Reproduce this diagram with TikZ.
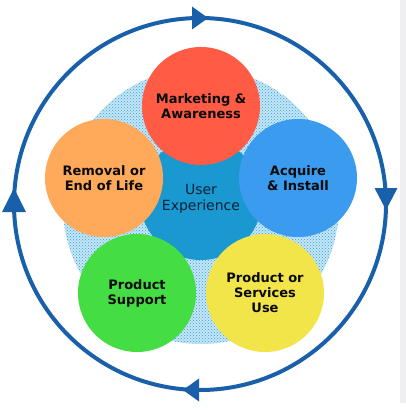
\documentclass[tikz,border=0pt]{standalone}
\usepackage{fontspec}
\setmainfont{DejaVu Sans}
\usetikzlibrary{patterns,calc}
\definecolor{ringblue}{HTML}{1860AA}
\definecolor{stripgray}{HTML}{EFEFF2}
\definecolor{ditherbase}{HTML}{C6E6F6}
\definecolor{ditherdot}{HTML}{2FA0DA}
\definecolor{hubteal}{HTML}{1A98D0}
\definecolor{hubtext}{HTML}{082238}
\definecolor{labeltext}{HTML}{0A0A0A}
\definecolor{mktred}{HTML}{FF5B45}
\definecolor{acqblue}{HTML}{3A9BEF}
\definecolor{useyellow}{HTML}{F2E54A}
\definecolor{supgreen}{HTML}{44DD44}
\definecolor{remorange}{HTML}{FFA95A}
\tikzset{
  ringstyle/.style={circle, draw=ringblue, line width=4pt, minimum size=372pt, inner sep=0pt, outer sep=0pt},
  arrowfill/.style={fill=ringblue},
  ditherdisc/.style={circle, minimum size=276pt, inner sep=0pt, fill=ditherbase},
  hubstyle/.style={circle, fill=hubteal, minimum size=122pt, inner sep=0pt, align=center,
    text=hubtext, font=\fontsize{14}{15.5}\selectfont},
  stagestyle/.style={circle, minimum size=118pt, inner sep=0pt, align=center,
    text=labeltext, font=\bfseries\fontsize{13}{15}\selectfont}
}
\begin{document}
\begin{tikzpicture}[x=1pt,y=-1pt]
\useasboundingbox (0,0) rectangle (406,412);
\fill[white] (0,0) rectangle (406,412);
\fill[stripgray] (400,0) rectangle (406,403);
% dithered background disc
\node[ditherdisc] (dither) at (201,206) {};
\fill[pattern=crosshatch dots, pattern color=ditherdot] (dither.center) circle[radius=138];
% outer cycle ring
\node[ringstyle] (ring) at (200,204) {};
\fill[arrowfill] ($(ring.north)+(8,0)$) -- ++(-16,-11.5) -- ++(0,23) -- cycle;
\fill[arrowfill] ($(ring.east)+(0,6)$) -- ++(-11.5,-22) -- ++(23,0) -- cycle;
\fill[arrowfill] ($(ring.south)+(-17,0)$) -- ++(16,-11.5) -- ++(0,23) -- cycle;
\fill[arrowfill] ($(ring.west)+(0,-16)$) -- ++(-12,24) -- ++(24,0) -- cycle;
% hub
\node[hubstyle] (hub) at (201,199) {User\\Experience};
% stages
\node[stagestyle, fill=mktred] (mkt) at (201,106) {Marketing \&\\Awareness};
\node[stagestyle, fill=acqblue] (acq) at (298,178) {Acquire\\\& Install};
\node[stagestyle, fill=useyellow] (use) at (265,293) {Product or\\Services\\Use};
\node[stagestyle, fill=supgreen] (sup) at (137,293) {Product\\Support};
\node[stagestyle, fill=remorange] (rem) at (104,178) {Removal or\\End of Life};
\end{tikzpicture}
\end{document}
